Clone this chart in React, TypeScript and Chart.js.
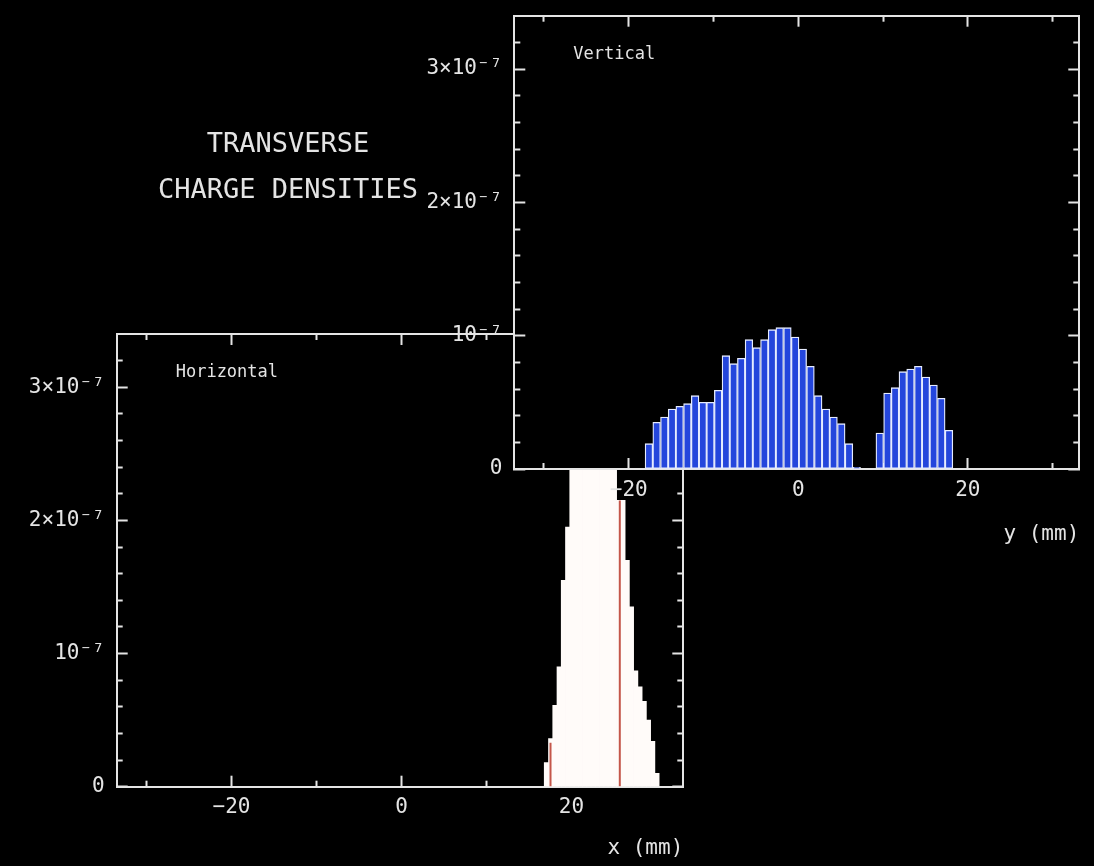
import React, { useEffect, useRef } from 'react';
import { Chart, registerables } from 'chart.js';

Chart.register(...registerables);

// ---- Horizontal profile: bin centres (mm) and charge density per bin ----
const horizontalBins = [
  17.05, 17.55, 18.05, 18.55, 19.05, 19.55, 20.05, 20.55, 21.05, 21.55, 22.05, 22.55, 23.05, 23.55,
  24.05, 24.55, 25.05, 25.55, 26.05, 26.55, 27.05, 27.55, 28.05, 28.55, 29.05, 29.55, 30.05,
];
const horizontalDensity = [
  0.18e-7, 0.36e-7, 0.61e-7, 0.9e-7, 1.55e-7, 1.95e-7, 2.5e-7, 2.8e-7, 3.05e-7, 3.25e-7, 3.4e-7, 3.5e-7,
  3.55e-7, 3.5e-7, 3.35e-7, 3.1e-7, 2.75e-7, 2.15e-7, 2.15e-7, 1.7e-7, 1.35e-7, 0.87e-7, 0.75e-7,
  0.64e-7, 0.5e-7, 0.34e-7, 0.1e-7,
];
// Two bin edges traced in red
const horizontalMarkers = [17.53, 25.68];
const horizontalMarkerDensity = [0.33e-7, 2.15e-7];

// ---- Vertical profile: bin centres (mm) and charge density per bin ----
const verticalBins = [
  -17.62, -16.71, -15.8, -14.89, -13.99, -13.08, -12.17, -11.26, -10.36, -9.45,
  -8.54, -7.63, -6.73, -5.82, -4.91, -4.0, -3.1, -2.19, -1.28, -0.37,
  0.53, 1.44, 2.35, 3.26, 4.16, 5.07, 5.98, 6.89, 7.79, 8.7,
  9.61, 10.52, 11.42, 12.33, 13.24, 14.15, 15.05, 15.96, 16.87, 17.78,
];
const verticalDensity = [
  0.19e-7, 0.35e-7, 0.39e-7, 0.45e-7, 0.47e-7, 0.49e-7, 0.55e-7, 0.5e-7, 0.5e-7, 0.59e-7,
  0.85e-7, 0.79e-7, 0.83e-7, 0.97e-7, 0.91e-7, 0.97e-7, 1.045e-7, 1.06e-7, 1.06e-7, 0.99e-7,
  0.9e-7, 0.77e-7, 0.55e-7, 0.45e-7, 0.39e-7, 0.34e-7, 0.19e-7, 0.012e-7, 0, 0,
  0.27e-7, 0.57e-7, 0.61e-7, 0.73e-7, 0.75e-7, 0.77e-7, 0.69e-7, 0.63e-7, 0.53e-7, 0.29e-7,
];

// ---- Axes ----
const MM_MIN = -33.5;
const MM_MAX = 33.15;
const DENSITY_MAX = 3.4e-7;
const mmTicks = [-20, 0, 20];
const mmTickLabels = ['\u221220', '0', '20'];
const mmMinorTicks = [-30, -10, 10, 30];
const densityTicks = [0, 1e-7, 2e-7, 3e-7];
const densityTickLabels = ['0', '10\u207B\u2077', '2\u00D710\u207B\u2077', '3\u00D710\u207B\u2077'];
const densityMinorTicks = [
  0.2e-7, 0.4e-7, 0.6e-7, 0.8e-7, 1.2e-7, 1.4e-7, 1.6e-7, 1.8e-7, 2.2e-7, 2.4e-7, 2.6e-7, 2.8e-7, 3.2e-7,
];

const INK = '#e4e4e4';
const MONO = '"DejaVu Sans Mono", monospace';
const BAR_BLUE = '#2446dc';
const BAR_EDGE = '#e6ecff';
const SLICE_WHITE = '#fffbf9';
const MARKER_RED = '#c4564a';
const tickFont = { family: MONO, size: 21 };

function pinTicks(values: number[]) {
  return (scale: any) => {
    scale.ticks = values.map((value) => ({ value }));
  };
}

function pinSize(size: number) {
  return (scale: any) => {
    if (scale.isHorizontal()) scale.height = size;
    else scale.width = size;
    scale.paddingLeft = 0;
    scale.paddingRight = 0;
    scale.paddingTop = 0;
    scale.paddingBottom = 0;
  };
}

// Inward-pointing tick marks (negative length), no grid lines
function tickGrid(length: number) {
  return {
    display: true,
    drawOnChartArea: false,
    drawTicks: true,
    tickLength: -length,
    color: INK,
    tickColor: INK,
    tickWidth: 2,
    offset: false,
  };
}

function tickOnlyScale(axis: string, position: string, values: number[], length: number, withBorder: boolean) {
  const isX = axis === 'x';
  return {
    type: 'linear',
    axis,
    position,
    min: isX ? MM_MIN : 0,
    max: isX ? MM_MAX : DENSITY_MAX,
    bounds: 'data',
    offset: false,
    weight: 0,
    afterBuildTicks: pinTicks(values),
    afterFit: pinSize(0),
    grid: tickGrid(length),
    border: withBorder ? { display: true, color: INK, width: 2 } : { display: false },
    ticks: { display: false },
  };
}

function panelScales(xTitle: string, xAxisHeight: number, titleGap: number) {
  return {
    x: {
      type: 'linear',
      position: 'bottom',
      min: MM_MIN,
      max: MM_MAX,
      bounds: 'data',
      offset: false,
      weight: 1,
      afterBuildTicks: pinTicks(mmTicks),
      afterFit: pinSize(xAxisHeight),
      grid: tickGrid(11),
      border: { display: true, color: INK, width: 2 },
      ticks: {
        color: INK,
        font: tickFont,
        padding: 19.5,
        autoSkip: false,
        maxRotation: 0,
        callback: (_v: any, i: number) => mmTickLabels[i],
      },
      title: {
        display: true,
        text: xTitle,
        align: 'end',
        color: INK,
        font: { family: MONO, size: 21 },
        padding: { top: 0, bottom: titleGap },
      },
    },
    xMinor: tickOnlyScale('x', 'bottom', mmMinorTicks, 6, false),
    xTop: tickOnlyScale('x', 'top', mmTicks, 11, true),
    xTopMinor: tickOnlyScale('x', 'top', mmMinorTicks, 6, false),
    y: {
      type: 'linear',
      position: 'left',
      min: 0,
      max: DENSITY_MAX,
      bounds: 'data',
      weight: 1,
      afterBuildTicks: pinTicks(densityTicks),
      afterFit: pinSize(100),
      grid: tickGrid(11),
      border: { display: true, color: INK, width: 2 },
      ticks: {
        color: INK,
        font: tickFont,
        padding: 23,
        autoSkip: false,
        callback: (_v: any, i: number) => densityTickLabels[i],
      },
    },
    yMinor: tickOnlyScale('y', 'left', densityMinorTicks, 6, false),
    yRight: tickOnlyScale('y', 'right', densityTicks, 11, true),
    yRightMinor: tickOnlyScale('y', 'right', densityMinorTicks, 6, false),
  };
}

// Panel caption inside the plot frame; optionally blanks the plot area first
function panelPlugin(caption: string, opaque: boolean) {
  return {
    id: 'panelCaption',
    beforeDraw(chart: any) {
      if (!opaque) return;
      const { ctx, chartArea: a } = chart;
      ctx.save();
      ctx.fillStyle = '#000';
      ctx.fillRect(a.left, a.top, a.right - a.left, a.bottom - a.top);
      ctx.restore();
    },
    afterDatasetsDraw(chart: any) {
      const { ctx, chartArea: a } = chart;
      ctx.save();
      ctx.fillStyle = INK;
      ctx.font = `17px ${MONO}`;
      ctx.textBaseline = 'middle';
      ctx.textAlign = 'left';
      ctx.fillText(caption, a.left + 59, a.top + 38.5);
      ctx.restore();
    },
  };
}

const baseOptions = {
  responsive: false,
  devicePixelRatio: 1,
  animation: false,
  events: [],
  plugins: { legend: { display: false }, tooltip: { enabled: false } },
};

export default function App() {
  const lowerRef = useRef<HTMLCanvasElement>(null);
  const upperRef = useRef<HTMLCanvasElement>(null);

  useEffect(() => {
    const lower = new Chart(lowerRef.current as HTMLCanvasElement, {
      type: 'bar',
      data: {
        datasets: [
          {
            label: 'marked',
            data: horizontalMarkers.map((x, i) => ({ x, y: horizontalMarkerDensity[i] })),
            xAxisID: 'xMark',
            yAxisID: 'y',
            backgroundColor: MARKER_RED,
            borderWidth: 0,
            grouped: false,
            maxBarThickness: 2,
            inflateAmount: 0,
            order: 0,
          },
          {
            label: 'Horizontal',
            data: horizontalBins.map((x, i) => ({ x, y: horizontalDensity[i] })),
            xAxisID: 'x',
            yAxisID: 'y',
            backgroundColor: SLICE_WHITE,
            borderWidth: 0,
            grouped: false,
            categoryPercentage: 1,
            barPercentage: 1,
            inflateAmount: 0.4,
            order: 1,
          },
        ],
      },
      options: {
        ...baseOptions,
        layout: { padding: { left: 16.7, right: 410.7, top: 334, bottom: 0 } },
        scales: {
          ...panelScales('x (mm)', 79.3, 4.9),
          xMark: { type: 'linear', display: false, min: MM_MIN, max: MM_MAX, bounds: 'data', offset: false },
        },
      } as any,
      plugins: [panelPlugin('Horizontal', false)],
    });

    const upper = new Chart(upperRef.current as HTMLCanvasElement, {
      type: 'bar',
      data: {
        datasets: [
          {
            label: 'Vertical',
            data: verticalBins.map((x, i) => ({ x, y: verticalDensity[i] })),
            xAxisID: 'x',
            yAxisID: 'y',
            backgroundColor: BAR_BLUE,
            borderColor: BAR_EDGE,
            borderWidth: 1.3,
            borderSkipped: false,
            grouped: false,
            categoryPercentage: 1,
            barPercentage: 1,
          },
        ],
      },
      options: {
        ...baseOptions,
        layout: { padding: { left: 414.3, right: 14.7, top: 15.7, bottom: 317 } },
        scales: panelScales('y (mm)', 80, 1.4),
      } as any,
      plugins: [panelPlugin('Vertical', true)],
    });

    return () => {
      lower.destroy();
      upper.destroy();
    };
  }, []);

  return (
    <div
      style={{
        position: 'fixed',
        left: 0,
        top: 0,
        width: 1094,
        height: 866,
        background: '#000',
        overflow: 'hidden',
      }}
    >
      <canvas ref={lowerRef} width={1094} height={866} style={{ position: 'absolute', left: 0, top: 0 }} />
      <canvas ref={upperRef} width={1094} height={866} style={{ position: 'absolute', left: 0, top: 0 }} />
      <div
        style={{
          position: 'absolute',
          left: 0,
          top: 120.25,
          width: 576,
          textAlign: 'center',
          color: INK,
          fontFamily: MONO,
          fontSize: 27,
          lineHeight: '45.5px',
          whiteSpace: 'pre',
        }}
      >
        {'TRANSVERSE\nCHARGE DENSITIES'}
      </div>
    </div>
  );
}
